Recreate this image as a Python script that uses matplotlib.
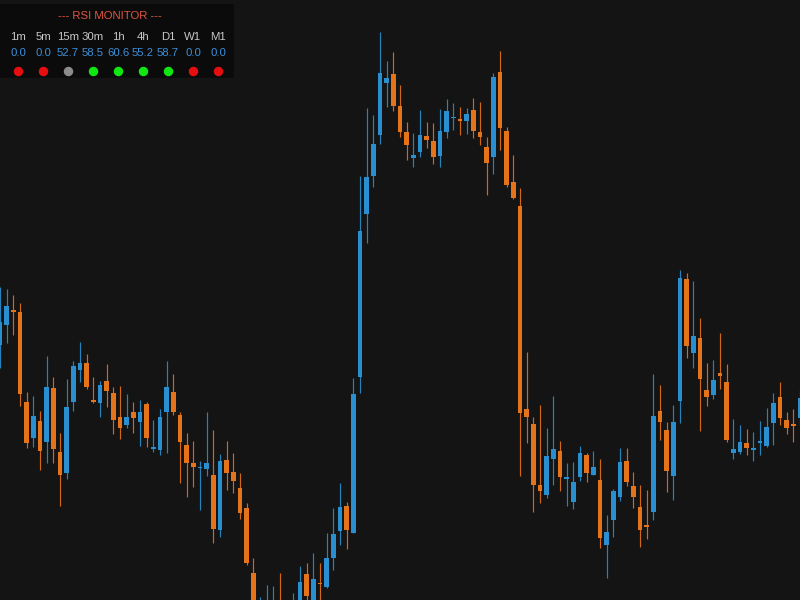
import matplotlib
matplotlib.use("Agg")
import matplotlib.pyplot as plt
from matplotlib.patches import Rectangle

# Colores del grafico
color_fondo = "#141414"
color_panel = "#0b0b0b"
color_alcista = "#2a8fd0"
color_bajista = "#e5731a"

# Velas (precio en unidades del grafico)
aperturas = [255, 275, 290, 288, 198, 162, 179, 158, 212, 148,
             127, 198, 230, 237, 200, 197, 219, 207, 183, 175,
             188, 178, 196, 151, 150, 188, 208, 185, 155, 137,
             132, 131, 125, 70, 140, 128, 112, 92, 27, -15,
             -12, -10, -2, -12, -10, -4, 26, -2, 17, 13,
             42, 69, 94, 67, 223, 386, 424, 465, 517, 526,
             494, 468, 442, 448, 464, 459, 444, 468, 482, 481,
             479, 490, 468, 453, 443, 528, 469, 418, 394, 191,
             176, 115, 105, 141, 149, 121, 98, 123, 145, 125,
             120, 55, 80, 103, 139, 114, 93, 75, 88, 189,
             170, 124, 199, 321, 247, 262, 210, 205, 227, 218,
             147, 148, 157, 150, 157, 154, 177, 203, 180, 176,
             182]

maximos = [313, 311, 305, 297, 208, 204, 189, 244, 223, 167,
           221, 239, 258, 246, 223, 219, 236, 213, 214, 206,
           198, 200, 198, 180, 191, 239, 226, 188, 167, 159,
           139, 188, 170, 146, 159, 147, 127, 97, 42, 3,
           15, 14, 27, -2, 7, 34, 37, 47, 37, 67,
           92, 117, 98, 222, 424, 492, 485, 568, 539, 548,
           515, 478, 467, 490, 478, 477, 491, 501, 497, 493,
           492, 502, 498, 463, 527, 549, 473, 445, 412, 248,
           183, 195, 172, 204, 159, 137, 138, 154, 147, 149,
           141, 85, 111, 152, 152, 128, 115, 110, 226, 215,
           178, 195, 330, 327, 319, 282, 237, 240, 267, 236,
           181, 175, 171, 168, 179, 192, 207, 218, 188, 191,
           210]

minimos = [232, 257, 265, 194, 152, 153, 130, 137, 137, 94,
           121, 189, 218, 211, 197, 183, 193, 166, 161, 172,
           167, 154, 153, 148, 145, 147, 185, 117, 103, 113,
           90, 124, 57, 63, 110, 107, 81, 35, -15, -20,
           -18, -15, -20, -16, -14, -10, -3, -6, -4, 12,
           30, 55, 51, 67, 207, 357, 413, 456, 493, 489,
           463, 440, 433, 443, 452, 436, 433, 462, 470, 465,
           466, 462, 455, 405, 426, 450, 413, 401, 124, 157,
           88, 97, 102, 115, 109, 94, 91, 119, 118, 125,
           52, 22, 63, 99, 114, 92, 53, 61, 80, 160,
           108, 100, 177, 242, 232, 169, 194, 201, 211, 158,
           141, 146, 145, 139, 145, 153, 155, 175, 166, 158,
           175]

cierres = [278, 294, 288, 206, 157, 184, 149, 213, 151, 125,
           193, 234, 237, 213, 198, 215, 209, 180, 172, 183,
           182, 188, 162, 153, 183, 213, 188, 158, 137, 133,
           133, 137, 71, 139, 127, 119, 87, 37, -5, -3,
           0, -1, -15, -6, -2, 18, 4, 21, 16, 42,
           66, 93, 70, 206, 369, 423, 456, 527, 522, 494,
           468, 455, 445, 465, 460, 443, 469, 489, 483, 479,
           486, 469, 463, 437, 523, 472, 415, 402, 187, 183,
           115, 109, 144, 151, 123, 123, 118, 147, 127, 133,
           62, 68, 109, 138, 118, 103, 70, 73, 184, 178,
           129, 178, 322, 254, 264, 221, 203, 220, 224, 160,
           151, 158, 152, 152, 159, 173, 197, 182, 172, 174,
           202]

# Panel RSI
temporalidades = ["1m", "5m", "15m", "30m", "1h", "4h", "D1", "W1", "M1"]
valores_rsi = [0.0, 0.0, 52.7, 58.5, 60.6, 55.2, 58.7, 0.0, 0.0]
estados = ["rojo", "rojo", "gris", "verde", "verde", "verde", "verde", "rojo", "rojo"]
colores_estado = {"rojo": "#e60f0f", "gris": "#8c8c8c", "verde": "#12e612"}

fuente = "Liberation Sans"


def dibujar_velas(ax):
    for i in range(len(aperturas)):
        o, h, l, c = aperturas[i], maximos[i], minimos[i], cierres[i]
        color = color_alcista if c >= o else color_bajista
        # mecha
        ax.vlines(i, l, h, color=color, linewidth=0.85, alpha=0.9)
        # cuerpo (minimo 1.5 para los doji)
        base = min(o, c)
        alto = max(abs(c - o), 1.5)
        ax.bar(i, alto, bottom=base, width=0.68, color=color, linewidth=0)


def dibujar_panel(fig):
    # fondo del panel
    fig.add_artist(Rectangle((0, 1 - 78 / 600), 234 / 800, 74 / 600,
                             transform=fig.transFigure, facecolor=color_panel,
                             edgecolor="none", zorder=5))
    fig.text(110 / 800, 1 - 16 / 600, "--- RSI MONITOR ---", color="#e0553f",
             fontsize=8.2, family=fuente, ha="center", va="center", zorder=6)
    for k, nombre in enumerate(temporalidades):
        x = (18 + 25 * k) / 800
        fig.text(x, 1 - 37 / 600, nombre, color="#c8c8c8", fontsize=8.2,
                 family=fuente, ha="center", va="center", zorder=6)
        fig.text(x, 1 - 53 / 600, f"{valores_rsi[k]:.1f}", color="#3d8fd9",
                 fontsize=8.2, family=fuente, ha="center", va="center", zorder=6)
        fig.add_artist(plt.Line2D([x], [1 - 71 / 600], marker="o", markersize=5.8,
                                  color=colores_estado[estados[k]], linestyle="none",
                                  transform=fig.transFigure, zorder=6))


fig = plt.figure(figsize=(8, 6), dpi=100, facecolor=color_fondo)
ax = fig.add_axes([0, 0, 1, 1])
ax.set_facecolor(color_fondo)
dibujar_velas(ax)
ax.set_xlim(0, 120)
ax.set_ylim(0, 600)
ax.axis("off")
dibujar_panel(fig)

fig.savefig("out.png", dpi=100, facecolor=color_fondo)
plt.close()
